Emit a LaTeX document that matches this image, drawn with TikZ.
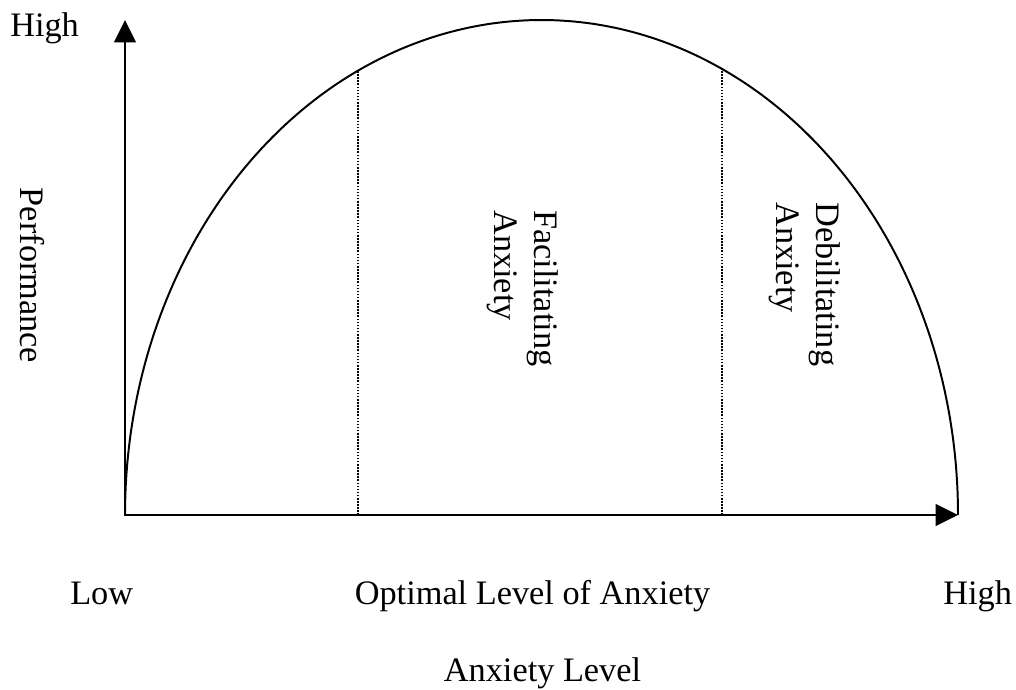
\documentclass[tikz,border=0pt]{standalone}
\usepackage{fontspec}
\setmainfont{Liberation Serif}
\usetikzlibrary{arrows.meta}
\begin{document}
\begin{tikzpicture}[x=0.025cm,y=-0.025cm,
  lbl/.style={font=\fontsize{24.4}{28.4}\selectfont, inner sep=0pt},
  axis/.style={line width=1.6pt, {Triangle[length=16pt,width=15.5pt]}-{Triangle[length=16pt,width=15.5pt]}},
  curve/.style={line width=1.4pt},
  guide/.style={line width=0.9pt, dash pattern=on 1.1pt off 1.1pt}]
\useasboundingbox (0,0) rectangle (1016,689);
\coordinate (O) at (125,515);
\coordinate (Ytip) at (125,20);
\coordinate (Xtip) at (958,515);
\coordinate (F0) at (358,515);
\coordinate (F1) at (358,70.6);
\coordinate (D0) at (722,515);
\coordinate (D1) at (722,68.9);
\draw[guide] (F0) -- (F1);
\draw[guide] (D0) -- (D1);
\draw[curve] plot[domain=180:360, samples=240, smooth] ({541.5+416.5*cos(\x)},{515+495*sin(\x)});
\draw[axis, line join=miter] (Ytip) -- (O) -- (Xtip);
\node[lbl, anchor=base west] (hiY) at (10,37) {High};
\node[lbl, anchor=base, rotate=-90] (perf) at (20,275.5) {Performance};
\node[lbl, anchor=north west, rotate=-90, align=left] (fac) at (558.5,210) {Facilitating\\Anxiety};
\node[lbl, anchor=north west, rotate=-90, align=left] (deb) at (841,202) {Debilitating\\Anxiety};
\node[lbl, anchor=base west] (low) at (70,604) {Low};
\node[lbl, anchor=base] (opt) at (532.5,604) {Optimal Level of Anxiety};
\node[lbl, anchor=base west] (hiX) at (943,604) {High};
\node[lbl, anchor=base] (axl) at (542.5,681) {Anxiety Level};
\end{tikzpicture}
\end{document}
